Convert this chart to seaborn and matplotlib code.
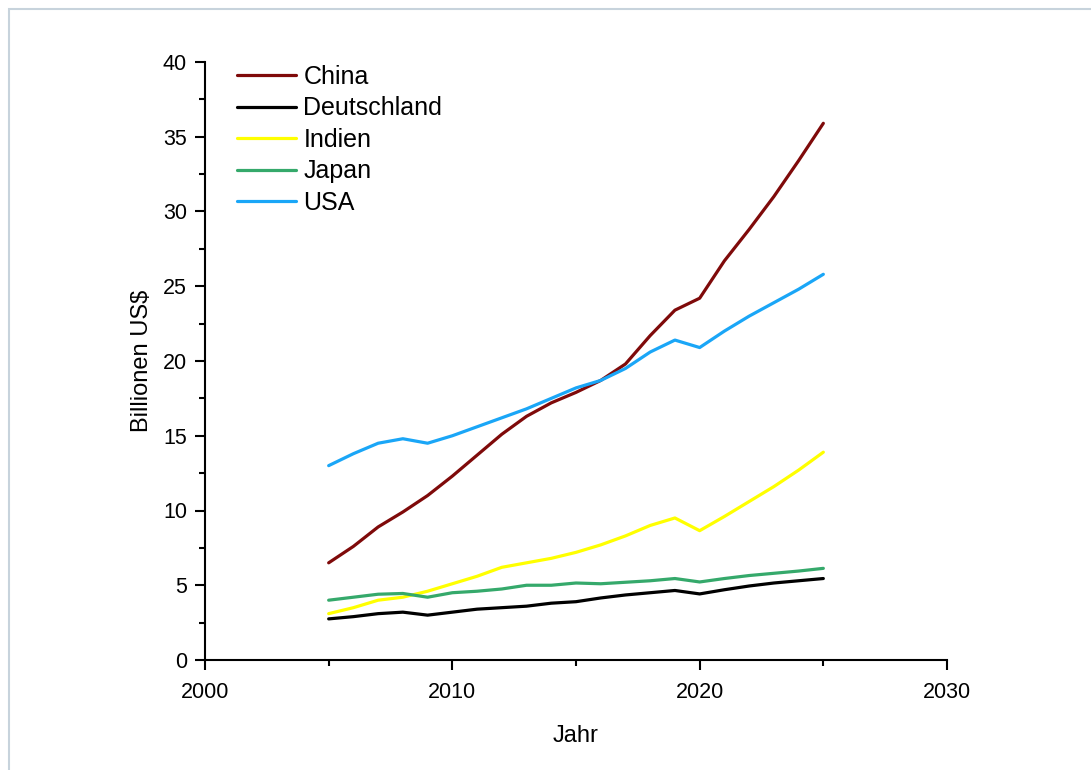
import matplotlib
matplotlib.use("Agg")
import matplotlib.pyplot as plt
import seaborn as sns
import pandas as pd
from matplotlib.patches import Rectangle
from matplotlib.ticker import MultipleLocator

years = list(range(2005, 2026))
china = [6.5, 7.6, 8.9, 9.9, 11.0, 12.3, 13.7, 15.1, 16.3, 17.2, 17.9, 18.7, 19.8, 21.7, 23.4, 24.2, 26.7, 28.8, 31.0, 33.4, 35.9]
deutschland = [2.75, 2.9, 3.1, 3.2, 3.0, 3.2, 3.4, 3.5, 3.6, 3.8, 3.9, 4.15, 4.35, 4.5, 4.65, 4.42, 4.7, 4.95, 5.15, 5.3, 5.45]
indien = [3.1, 3.5, 4.0, 4.2, 4.6, 5.1, 5.6, 6.2, 6.5, 6.8, 7.2, 7.7, 8.3, 9.0, 9.5, 8.65, 9.6, 10.6, 11.6, 12.7, 13.9]
japan = [4.0, 4.2, 4.4, 4.45, 4.2, 4.5, 4.6, 4.75, 5.0, 5.0, 5.15, 5.1, 5.2, 5.3, 5.45, 5.22, 5.45, 5.65, 5.8, 5.95, 6.13]
usa = [13.0, 13.8, 14.5, 14.8, 14.5, 15.0, 15.6, 16.2, 16.8, 17.5, 18.2, 18.7, 19.5, 20.6, 21.4, 20.9, 22.0, 23.0, 23.9, 24.8, 25.8]

countries = ["China", "Deutschland", "Indien", "Japan", "USA"]
colors = ["#7f0a0a", "#000000", "#ffff00", "#35a96b", "#1aa6f7"]

series = {"China": china, "Deutschland": deutschland, "Indien": indien, "Japan": japan, "USA": usa}
rows = []
for c in countries:
    for y, v in zip(years, series[c]):
        rows.append({"Jahr": y, "Wert": v, "Land": c})
df = pd.DataFrame(rows)

sns.set_style("ticks")
plt.rcParams["font.family"] = ["Liberation Sans", "DejaVu Sans"]
plt.rcParams["text.color"] = "black"
plt.rcParams["axes.labelcolor"] = "black"

fig = plt.figure(figsize=(10.91, 7.7), dpi=100)
ax = fig.add_axes([205/1091, 1-660/770, (947-205)/1091, (660-62)/770])

sns.lineplot(data=df, x="Jahr", y="Wert", hue="Land", hue_order=countries,
             palette=colors, linewidth=2.3, ax=ax, legend=True)

ax.set_xlim(2000, 2030)
ax.set_ylim(0, 40)
ax.xaxis.set_major_locator(MultipleLocator(10))
ax.xaxis.set_minor_locator(MultipleLocator(5))
ax.yaxis.set_major_locator(MultipleLocator(5))
ax.yaxis.set_minor_locator(MultipleLocator(2.5))
ax.tick_params(which="major", direction="out", length=7, width=1.5, labelsize=15.5,
               colors="black", labelcolor="black")
ax.tick_params(axis="x", which="major", pad=9)
ax.tick_params(axis="y", which="major", pad=6)
ax.tick_params(which="minor", direction="out", length=4, width=1.5, colors="black")
for s in ["top", "right"]:
    ax.spines[s].set_visible(False)
for s in ["left", "bottom"]:
    ax.spines[s].set_linewidth(1.5)
    ax.spines[s].set_color("black")

ax.set_xlabel("Jahr", fontsize=17, labelpad=16, color="black")
ax.set_ylabel("Billionen US$", fontsize=17, labelpad=7, color="black")

leg = ax.legend(loc="upper left", frameon=False, fontsize=18, handlelength=2.35,
                handletextpad=0.3, labelspacing=0.3, bbox_to_anchor=(0.013, 1.033))
for h in leg.get_lines():
    h.set_linewidth(2.3)
for t in leg.get_texts():
    t.set_color("black")

fig.patches.append(Rectangle((9/1091, -0.05), 1.2, 1 - 9/770 + 0.05,
                             transform=fig.transFigure, fill=False,
                             edgecolor="#c7d3dc", linewidth=1.5, zorder=0))

fig.savefig("out.png", dpi=100)
